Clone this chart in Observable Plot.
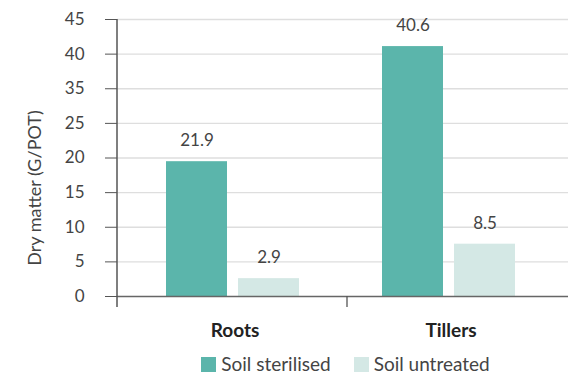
<!DOCTYPE html>
<html>
<head>
<meta charset="utf-8">
<script src="https://cdn.jsdelivr.net/npm/d3@7"></script>
<script src="https://cdn.jsdelivr.net/npm/@observablehq/plot@0.6"></script>
<style>
  html, body { margin: 0; padding: 0; background: #fff; }
  #chart { width: 568px; height: 378px; font-family: Lato, "Noto Sans", sans-serif; }
  .legend { display: flex; justify-content: center; gap: 23px; padding-left: 123px; height: 30px; align-items: center; font-size: 19px; color: #444; }
  .legend span.sw { display: inline-block; width: 15px; height: 15px; margin-right: 5px; vertical-align: -1px; }
</style>
</head>
<body>
<div id="chart"></div>
<script>
const categories = ["Roots", "Tillers"];
const series = ["Soil sterilised", "Soil untreated"];
const sterilised = [21.9, 40.6];
const untreated = [2.9, 8.5];
const valueLabels = [["21.9", "2.9"], ["40.6", "8.5"]];
const colors = ["#5bb5ab", "#d4e8e5"];
const yTickLabels = ["0", "5", "10", "15", "20", "25", "35", "40", "45"];
const yMax = 45;
const yTitle = "Dry matter (G/POT)";

const rows = [];
categories.forEach((c, i) => {
  rows.push({category: c, series: series[0], value: sterilised[i], label: valueLabels[i][0]});
  rows.push({category: c, series: series[1], value: untreated[i], label: valueLabels[i][1]});
});
const key = d => d.category + "|" + d.series;
const xDomain = [];
categories.forEach((c, i) => {
  if (i > 0) xDomain.push("gap" + i);
  series.forEach(s => xDomain.push(c + "|" + s));
});
const yTicks = yTickLabels.map((_, i) => i * yMax / (yTickLabels.length - 1));
const font = "Lato, 'Noto Sans', sans-serif";

const plot = Plot.plot({
  width: 568,
  height: 348,
  marginLeft: 117,
  marginRight: 0,
  marginTop: 19,
  marginBottom: 52,
  style: {fontFamily: font, fontSize: "17px", color: "#444", background: "#fff"},
  x: {type: "band", domain: xDomain, paddingInner: 0.153, paddingOuter: 0.68, insetRight: 4, axis: null},
  y: {domain: [0, yMax], axis: null},
  color: {domain: series, range: colors},
  marks: [
    Plot.ruleY(yTicks.slice(1), {stroke: "#dedede", strokeWidth: 1.3}),
    Plot.barY(rows, {x: key, y: "value", fill: "series"}),
    Plot.ruleY([0], {stroke: "#666", strokeWidth: 1.5}),
    Plot.axisY(yTicks, {
      tickSize: 12, tickPadding: 21, stroke: "#555",
      tickFormat: (d, i) => yTickLabels[i],
      fontSize: 17, fill: "#444", label: null
    }),
    Plot.ruleX(xDomain.filter(d => d.startsWith("gap")), {y1: 0, y2: 0, insetBottom: -11, stroke: "#555", strokeWidth: 1.3, dx: 6}),
    Plot.text(rows, {x: key, y: "value", text: "label", dy: -21, fontSize: 17, fill: "#444"}),
    Plot.text(categories, {x: c => c + "|" + series[0], y: () => 0, text: d => d, dx: 38, dy: 34, fontSize: 19, fontWeight: "bold", fill: "#222"}),
    Plot.text([yTitle], {frameAnchor: "left", text: d => d, rotate: -90, textAnchor: "middle", dx: -82, dy: 30, fontSize: 18, fill: "#444"})
  ]
});

// y-axis line extending slightly below the baseline
const y = plot.scale("y");
d3.select(plot).append("line")
  .attr("x1", 117).attr("x2", 117)
  .attr("y1", y.apply(yMax)).attr("y2", y.apply(0) + 11)
  .attr("stroke", "#555").attr("stroke-width", 1.5);

const chart = document.getElementById("chart");
chart.appendChild(plot);

const legend = document.createElement("div");
legend.className = "legend";
series.forEach((s, i) => {
  const item = document.createElement("div");
  const sw = document.createElement("span");
  sw.className = "sw";
  sw.style.background = colors[i];
  item.appendChild(sw);
  item.appendChild(document.createTextNode(s));
  legend.appendChild(item);
});
chart.appendChild(legend);
</script>
</body>
</html>
